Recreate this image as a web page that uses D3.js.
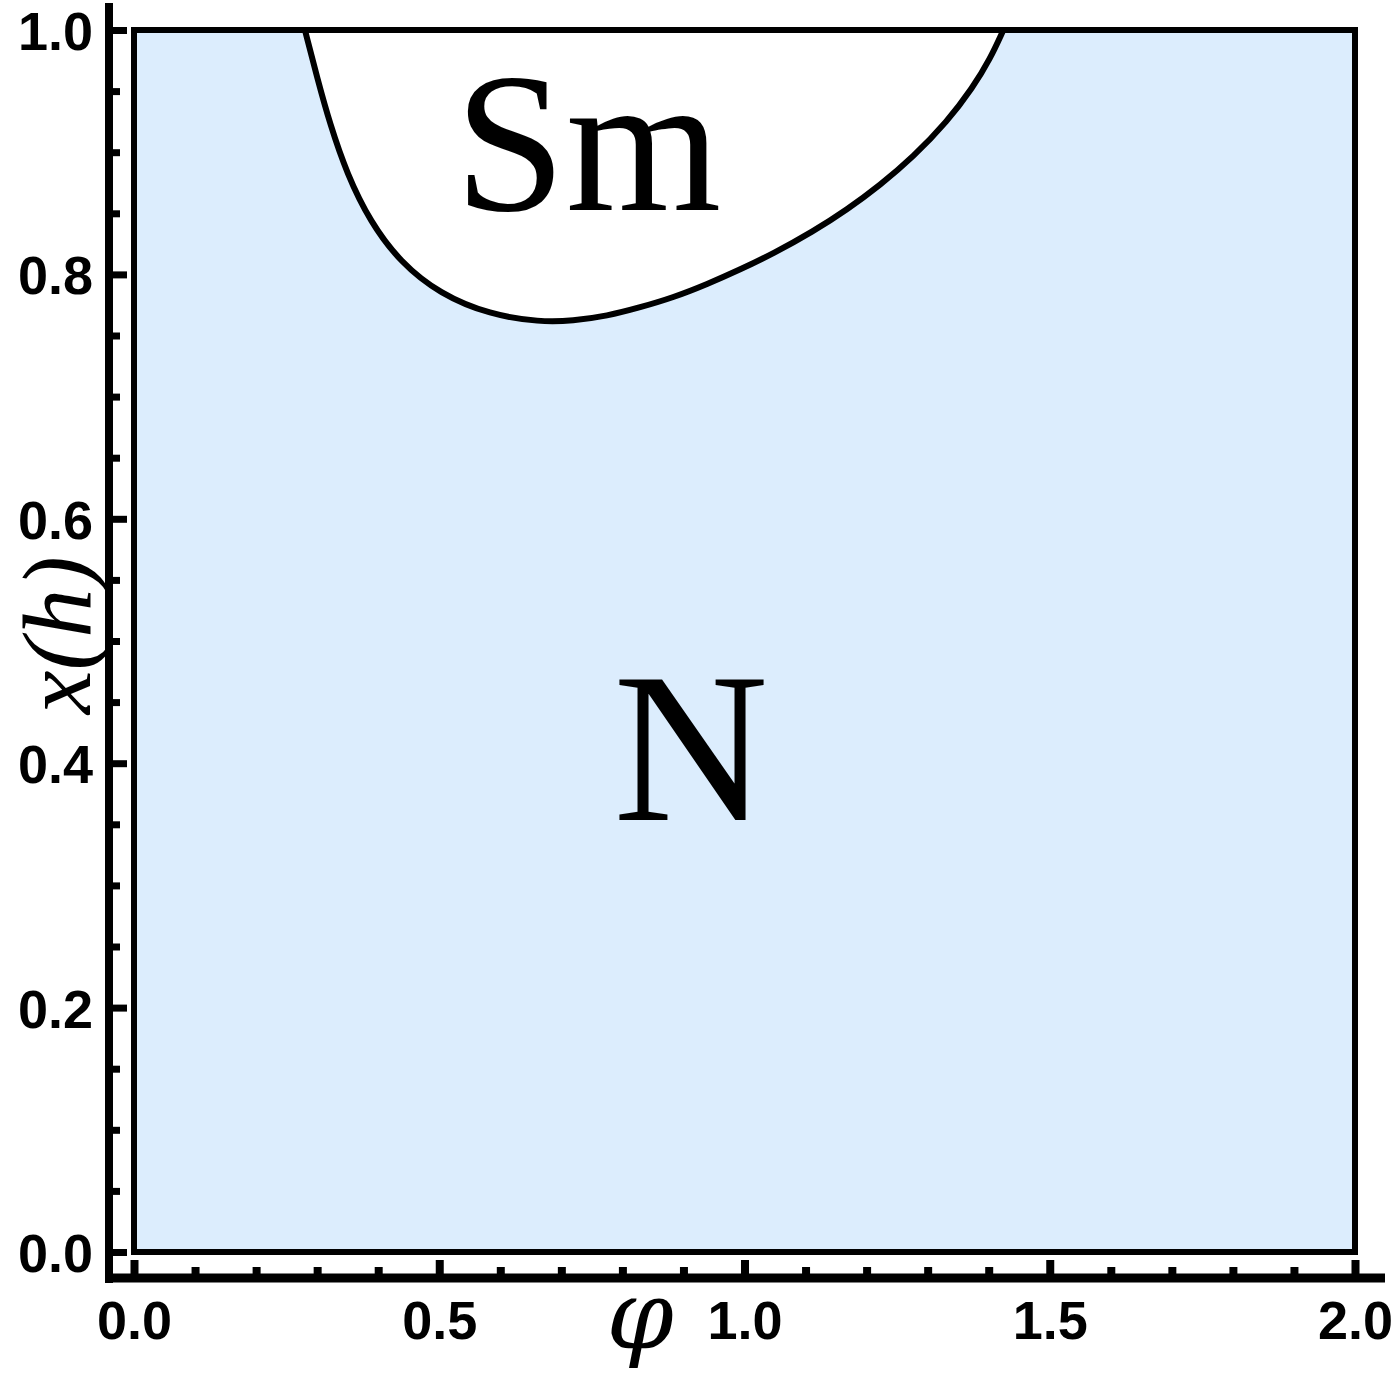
<!DOCTYPE html>
<html>
<head>
<meta charset="utf-8">
<script src="https://cdn.jsdelivr.net/npm/d3@7"></script>
<style>
  body { margin: 0; background: #fff; }
  .tick text { font-family: "Liberation Sans", Arial, sans-serif; font-weight: bold; font-size: 54px; fill: #000; }
  .region { font-family: "Liberation Serif", "Times New Roman", serif; fill: #000; }
  .axis-title { font-family: "Liberation Serif", "Times New Roman", serif; font-style: italic; fill: #000; }
</style>
</head>
<body>
<div id="chart"></div>
<script>
// boundary of the smectic (Sm) region
var phi = [0.280, 0.300, 0.321, 0.349, 0.387, 0.436, 0.501, 0.583, 0.665, 0.719, 0.775, 0.829, 0.883, 0.939, 0.993,
           1.047, 1.112, 1.168, 1.222, 1.276, 1.332, 1.374, 1.402, 1.424];
var xh  = [1.000, 0.961, 0.923, 0.882, 0.843, 0.810, 0.784, 0.767, 0.761, 0.762, 0.766, 0.773, 0.781, 0.792, 0.804,
           0.817, 0.835, 0.853, 0.873, 0.896, 0.925, 0.953, 0.976, 1.000];

var xTicks = [0, 0.5, 1.0, 1.5, 2.0];
var yTicks = [0, 0.2, 0.4, 0.6, 0.8, 1.0];
var regionLabels = ["Sm", "N"];

const width = 1392;
const height = 1378;

const svg = d3.select("#chart")
              .append("svg")
              .attr("width", width)
              .attr("height", height);

const x = d3.scaleLinear().domain([0, 2]).range([134, 1355]);
const y = d3.scaleLinear().domain([0, 1]).range([1252, 30]);

var pts = phi.map(function(p, i) { return [p, xh[i]]; });

// nematic background
svg.append("rect")
   .attr("x", x(0))
   .attr("y", y(1))
   .attr("width", x(2) - x(0))
   .attr("height", y(0) - y(1))
   .attr("fill", "#dcedfd");

const line = d3.line()
               .x(function(d) { return x(d[0]); })
               .y(function(d) { return y(d[1]); })
               .curve(d3.curveBasis);

// smectic pocket (white), closed along the top edge
svg.append("path")
   .attr("d", line(pts) + "Z")
   .attr("fill", "#ffffff");

svg.append("path")
   .attr("d", line(pts))
   .attr("fill", "none")
   .attr("stroke", "#000")
   .attr("stroke-width", 6);

// frame
svg.append("rect")
   .attr("x", x(0))
   .attr("y", y(1))
   .attr("width", x(2) - x(0))
   .attr("height", y(0) - y(1))
   .attr("fill", "none")
   .attr("stroke", "#000")
   .attr("stroke-width", 6);

// outer axes
const axX = 109, axY = 1278;

var minorY = d3.range(0, 1.0001, 0.05).filter(function(v) { return yTicks.indexOf(+v.toFixed(2)) < 0; });
var minorX = d3.range(0, 2.0001, 0.1).filter(function(v) { return xTicks.indexOf(+v.toFixed(1)) < 0; });

var gy = svg.append("g").attr("transform", "translate(" + axX + ",0)");
gy.call(d3.axisLeft(y).tickValues(minorY).tickSize(-11).tickSizeOuter(0).tickFormat(""));
gy.call(function(g) {
  g.append("g").call(d3.axisLeft(y).tickValues(yTicks).tickSize(-18).tickSizeOuter(0).tickPadding(16).tickFormat(d3.format(".1f")));
});
gy.selectAll(".domain").remove();
gy.selectAll(".tick line").attr("stroke", "#000").attr("stroke-width", 7);
gy.selectAll(".tick text").attr("dy", "0.36em");
gy.append("line")
  .attr("x1", 0).attr("x2", 0)
  .attr("y1", 3).attr("y2", axY + 5)
  .attr("stroke", "#000").attr("stroke-width", 8);

var gx = svg.append("g").attr("transform", "translate(0," + axY + ")");
gx.call(d3.axisBottom(x).tickValues(minorX).tickSize(-11).tickSizeOuter(0).tickFormat(""));
gx.call(function(g) {
  g.append("g").call(d3.axisBottom(x).tickValues(xTicks).tickSize(-18).tickSizeOuter(0).tickPadding(23).tickFormat(d3.format(".1f")));
});
gx.selectAll(".domain").remove();
gx.selectAll(".tick line").attr("stroke", "#000").attr("stroke-width", 8);
gx.append("line")
  .attr("x1", axX - 4).attr("x2", 1385)
  .attr("y1", 0).attr("y2", 0)
  .attr("stroke", "#000").attr("stroke-width", 9);

// axis titles
svg.append("text")
   .attr("class", "axis-title")
   .attr("x", 640)
   .attr("y", 1348)
   .attr("text-anchor", "middle")
   .style("font-family", "'DejaVu Serif', serif")
   .style("font-size", "96px")
   .text("\u03C6");

svg.append("text")
   .attr("class", "axis-title")
   .attr("transform", "translate(90,635) rotate(-90)")
   .attr("text-anchor", "middle")
   .style("font-size", "98px")
   .text("x(h)");

// region labels
svg.append("text")
   .attr("class", "region")
   .attr("x", 588)
   .attr("y", 210)
   .attr("text-anchor", "middle")
   .style("font-size", "200px")
   .text(regionLabels[0]);

svg.append("text")
   .attr("class", "region")
   .attr("x", 691)
   .attr("y", 820)
   .attr("text-anchor", "middle")
   .style("font-size", "215px")
   .text(regionLabels[1]);
</script>
</body>
</html>
